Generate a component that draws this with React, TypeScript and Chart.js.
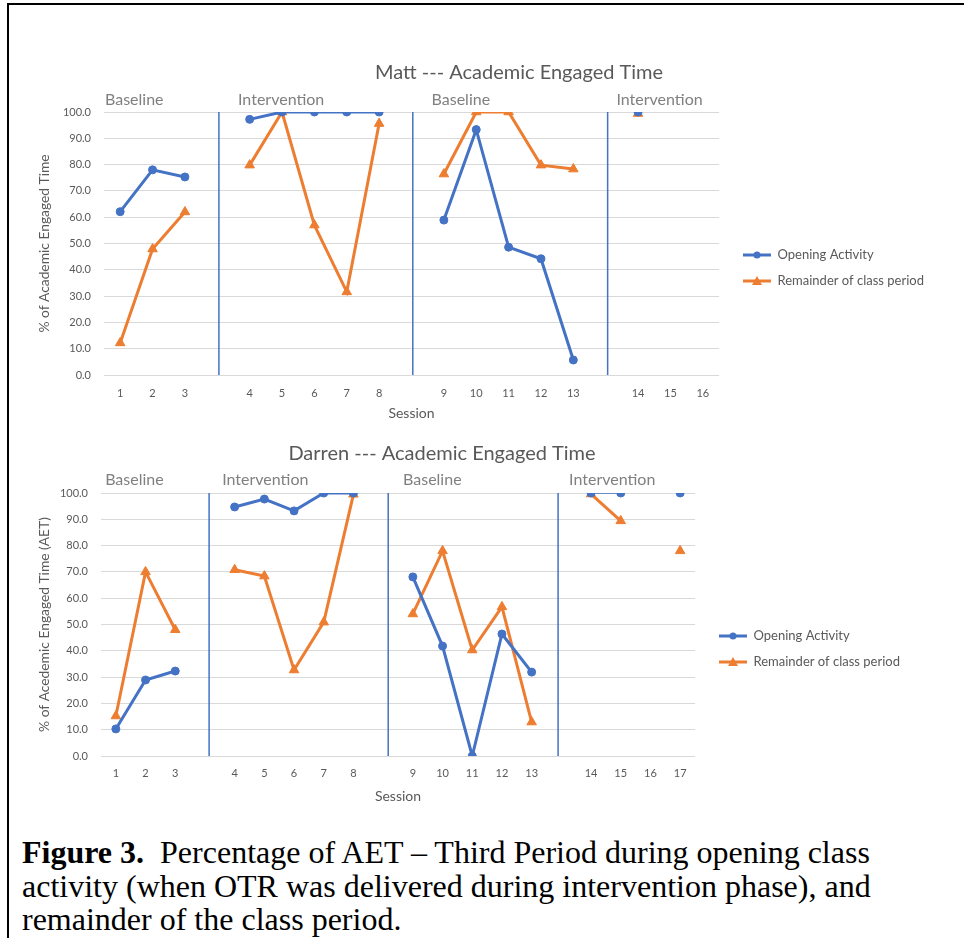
import React, { useEffect, useRef } from "react";
import { Chart, registerables } from "chart.js";

Chart.register(...registerables);

// ---------- data ----------
const seriesNames = ["Opening Activity", "Remainder of class period"];
const yTickValues = [0, 10, 20, 30, 40, 50, 60, 70, 80, 90, 100];

// Matt (blank entries are the gaps between phases)
const mattSessions = ["1", "2", "3", "", "4", "5", "6", "7", "8", "", "9", "10", "11", "12", "13", "", "14", "15", "16"];
const mattOpening = [62.1, 78.0, 75.3, null, 97.2, 100, 100, 100, 100, null, 58.9, 93.3, 48.6, 44.2, 5.7, null, 100, null, null];
const mattRemainder = [12.2, 47.9, 62.0, null, 79.8, 100, 57.0, 31.6, 95.6, null, 76.4, 100, 100, 79.8, 78.3, null, 99.4, null, null];
const mattPhaseChanges = [4.05, 10.04, 16.06];
const mattPhaseNames = ["Baseline", "Intervention", "Baseline", "Intervention"];
const mattPhaseNameAt = [0.53, 4.64, 10.62, 16.33];

// Darren
const darrenSessions = ["1", "2", "3", "", "4", "5", "6", "7", "8", "", "9", "10", "11", "12", "13", "", "14", "15", "16", "17"];
const darrenOpening = [10.3, 28.9, 32.3, null, 94.7, 97.7, 93.2, 100, 100, null, 68.1, 41.8, 0, 46.4, 31.9, null, 100, 100, null, 100];
const darrenRemainder = [15.2, 70.0, 48.0, null, 70.8, 68.4, 32.7, 50.9, 99.5, null, 54.0, 78.0, 40.3, 56.7, 12.9, null, 99.6, 89.4, null, 78.0];
const darrenPhaseChanges = [4.14, 10.17, 15.89];
const darrenPhaseNames = ["Baseline", "Intervention", "Baseline", "Intervention"];
const darrenPhaseNameAt = [0.64, 4.58, 10.67, 16.26];

// ---------- styles ----------
const BLUE = "#4472C4";
const ORANGE = "#ED7D31";
const TEXT = "#595959";
const GRID = "#D9D9D9";
const PHASE_TEXT = "#808080";
const FONT = "Lato, 'Open Sans', sans-serif";

function makeLegendIcon(color: string, kind: "circle" | "triangle") {
  const c = document.createElement("canvas");
  c.width = 28;
  c.height = 12;
  const g = c.getContext("2d")!;
  g.strokeStyle = color;
  g.fillStyle = color;
  g.lineWidth = 3;
  g.beginPath();
  g.moveTo(0, 6);
  g.lineTo(28, 6);
  g.stroke();
  g.beginPath();
  if (kind === "circle") {
    g.arc(14, 6, 3.5, 0, Math.PI * 2);
  } else {
    g.moveTo(14, 1);
    g.lineTo(19, 10);
    g.lineTo(9, 10);
    g.closePath();
  }
  g.fill();
  return c;
}

type Cfg = {
  title: string;
  yTitle: string;
  sessions: string[];
  opening: (number | null)[];
  remainder: (number | null)[];
  phaseChanges: number[];
  phaseNames: string[];
  phaseNameAt: number[];
  top: number;
  height: number;
  padRight: number;
  yWidth: number;
  titlePadTop: number;
  xHeight: number;
  xTickPad: number;
  xTitlePadBottom: number;
  titleCenterX: number;
  phaseLabelGap: number;
  thinOpeningFrom?: number;
};

function PhaseChart({ cfg }: { cfg: Cfg }) {
  const ref = useRef<HTMLCanvasElement>(null);
  useEffect(() => {
    const n = cfg.sessions.length;
    const toPts = (arr: (number | null)[]) => arr.map((v, i) => ({ x: i + 1, y: v }));
    const icons = [makeLegendIcon(BLUE, "circle"), makeLegendIcon(ORANGE, "triangle")];

    const phaseDatasets = cfg.phaseChanges.map((p) => ({
      type: "line" as const,
      label: "phase",
      data: [
        { x: p, y: yTickValues[0] },
        { x: p, y: yTickValues[yTickValues.length - 1] },
      ],
      borderColor: BLUE,
      borderWidth: 1.5,
      pointRadius: 0,
      isPhase: true,
    }));

    const placePlugin = {
      id: "placeBoxes",
      afterLayout(chart: any) {
        const a = chart.chartArea;
        const t = chart.titleBlock;
        if (t) {
          const w = t.right - t.left;
          t.left = cfg.titleCenterX - w / 2;
          t.right = t.left + w;
        }
        const lg = chart.legend;
        if (lg) {
          const w = 240;
          const h = lg.height;
          lg.left = a.right + 11;
          lg.width = w;
          lg.right = lg.left + w;
          lg.top = a.top + 123.5;
          lg.bottom = lg.top + h;
        }
      },
    };

    const phaseLabelPlugin = {
      id: "phaseLabels",
      afterDraw(chart: any) {
        const { ctx, chartArea, scales } = chart;
        ctx.save();
        ctx.font = `16px ${FONT}`;
        ctx.fillStyle = PHASE_TEXT;
        ctx.textAlign = "left";
        ctx.textBaseline = "middle";
        cfg.phaseNames.forEach((name, i) => {
          const x = scales.x.getPixelForValue(cfg.phaseNameAt[i]);
          ctx.fillText(name, x, chartArea.top - cfg.phaseLabelGap);
        });
        ctx.restore();
      },
    };

    const chart = new Chart(ref.current!, {
      type: "line",
      data: {
        datasets: [
          {
            label: seriesNames[0],
            data: toPts(cfg.opening),
            borderColor: BLUE,
            backgroundColor: BLUE,
            borderWidth: 3,
            pointStyle: "circle",
            pointRadius: 4,
            pointBorderWidth: 1,
            pointBackgroundColor: BLUE,
            pointBorderColor: BLUE,
            spanGaps: false,
            segment: {
              borderWidth: (c: any) =>
                cfg.thinOpeningFrom !== undefined && c.p0DataIndex === cfg.thinOpeningFrom ? 1.5 : undefined,
            },
          },
          {
            label: seriesNames[1],
            data: toPts(cfg.remainder),
            borderColor: ORANGE,
            backgroundColor: ORANGE,
            borderWidth: 3,
            pointStyle: "triangle",
            pointRadius: 5.5,
            pointBorderWidth: 1,
            pointBackgroundColor: ORANGE,
            pointBorderColor: ORANGE,
            spanGaps: false,
          },
          ...phaseDatasets,
        ] as any,
      },
      options: {
        responsive: false,
        maintainAspectRatio: false,
        animation: false,
        events: [],
        layout: { padding: { left: 30, right: cfg.padRight, top: 0, bottom: 0 } },
        scales: {
          x: {
            type: "linear",
            min: 0.5,
            max: n + 0.5,
            afterBuildTicks: (scale: any) => {
              scale.ticks = cfg.sessions.map((_, i) => ({ value: i + 1 }));
            },
            afterFit: (scale: any) => {
              scale.height = cfg.xHeight;
            },
            grid: { display: false, drawTicks: false },
            border: { display: false },
            ticks: {
              autoSkip: false,
              maxRotation: 0,
              padding: cfg.xTickPad,
              color: TEXT,
              font: { family: FONT, size: 11 },
              callback: (v: any) => cfg.sessions[Math.round(Number(v)) - 1] ?? "",
            },
            title: {
              display: true,
              text: "Session",
              color: TEXT,
              font: { family: FONT, size: 14 },
              padding: { top: 0, bottom: cfg.xTitlePadBottom },
            },
          },
          y: {
            min: yTickValues[0],
            max: yTickValues[yTickValues.length - 1],
            afterBuildTicks: (scale: any) => {
              scale.ticks = yTickValues.map((v) => ({ value: v }));
            },
            afterFit: (scale: any) => {
              scale.width = cfg.yWidth;
            },
            grid: { color: GRID, lineWidth: 1, drawTicks: false },
            border: { display: false },
            ticks: {
              padding: 13,
              color: TEXT,
              font: { family: FONT, size: 11 },
              callback: (v: any) => Number(v).toFixed(1),
            },
            title: {
              display: true,
              text: cfg.yTitle,
              color: TEXT,
              font: { family: FONT, size: 13.8 },
              padding: { top: 6.7, bottom: 0 },
            },
          },
        },
        plugins: {
          title: {
            display: true,
            text: cfg.title,
            color: TEXT,
            font: { family: FONT, size: 20, weight: "normal" },
            padding: { top: cfg.titlePadTop, bottom: 27 },
          },
          legend: {
            display: true,
            position: "right",
            align: "start",
            maxWidth: 100,
            labels: {
              usePointStyle: true,
              pointStyleWidth: 28,
              boxHeight: 13,
              padding: 13,
              color: TEXT,
              font: { family: FONT, size: 13 },
              generateLabels: (chart: any) =>
                chart.data.datasets
                  .map((ds: any, i: number) => ({ ds, i }))
                  .filter(({ ds }: any) => !ds.isPhase)
                  .map(({ ds, i }: any, k: number) => ({
                    text: ds.label,
                    fillStyle: ds.borderColor,
                    strokeStyle: ds.borderColor,
                    lineWidth: 0,
                    pointStyle: icons[k],
                    hidden: false,
                    datasetIndex: i,
                    fontColor: TEXT,
                  })),
            },
          },
          tooltip: { enabled: false },
        },
      } as any,
      plugins: [placePlugin, phaseLabelPlugin],
    });
    return () => chart.destroy();
  }, []);
  return (
    <canvas
      ref={ref}
      width={964}
      height={cfg.height}
      style={{ position: "absolute", left: 0, top: cfg.top, width: 964, height: cfg.height }}
    />
  );
}

const mattCfg: Cfg = {
  title: "Matt --- Academic Engaged Time",
  yTitle: "% of Academic Engaged Time",
  sessions: mattSessions,
  opening: mattOpening,
  remainder: mattRemainder,
  phaseChanges: mattPhaseChanges,
  phaseNames: mattPhaseNames,
  phaseNameAt: mattPhaseNameAt,
  top: 40,
  height: 390,
  padRight: 145,
  yWidth: 74,
  titlePadTop: 21,
  xHeight: 55,
  xTickPad: 11.4,
  xTitlePadBottom: 8.6,
  titleCenterX: 519,
  phaseLabelGap: 12,
};

const darrenCfg: Cfg = {
  title: "Darren --- Academic Engaged Time",
  yTitle: "% of Acedemic Engaged Time (AET)",
  sessions: darrenSessions,
  opening: darrenOpening,
  remainder: darrenRemainder,
  phaseChanges: darrenPhaseChanges,
  phaseNames: darrenPhaseNames,
  phaseNameAt: darrenPhaseNameAt,
  top: 430,
  height: 385,
  padRight: 169,
  yWidth: 71,
  titlePadTop: 12,
  xHeight: 59,
  xTickPad: 10.4,
  xTitlePadBottom: 10.6,
  titleCenterX: 442,
  phaseLabelGap: 13.5,
  thinOpeningFrom: 16,
};

export default function App() {
  return (
    <div
      style={{
        position: "fixed",
        left: 0,
        top: 0,
        width: 964,
        height: 938,
        background: "#fff",
        overflow: "hidden",
      }}
    >
      <div
        style={{
          position: "absolute",
          left: 7,
          top: 3,
          right: 0,
          bottom: 0,
          borderTop: "2px solid #000",
          borderLeft: "2px solid #000",
        }}
      />
      <PhaseChart cfg={mattCfg} />
      <PhaseChart cfg={darrenCfg} />
      <div
        style={{
          position: "absolute",
          left: 22,
          top: 836,
          fontFamily: "'Liberation Serif', 'Times New Roman', serif",
          fontSize: 32,
          lineHeight: "33.5px",
          color: "#000",
          whiteSpace: "pre",
        }}
      >
        <b>Figure 3.</b>
        {"  Percentage of AET – Third Period during opening class\nactivity (when OTR was delivered during intervention phase), and\nremainder of the class period."}
      </div>
    </div>
  );
}
